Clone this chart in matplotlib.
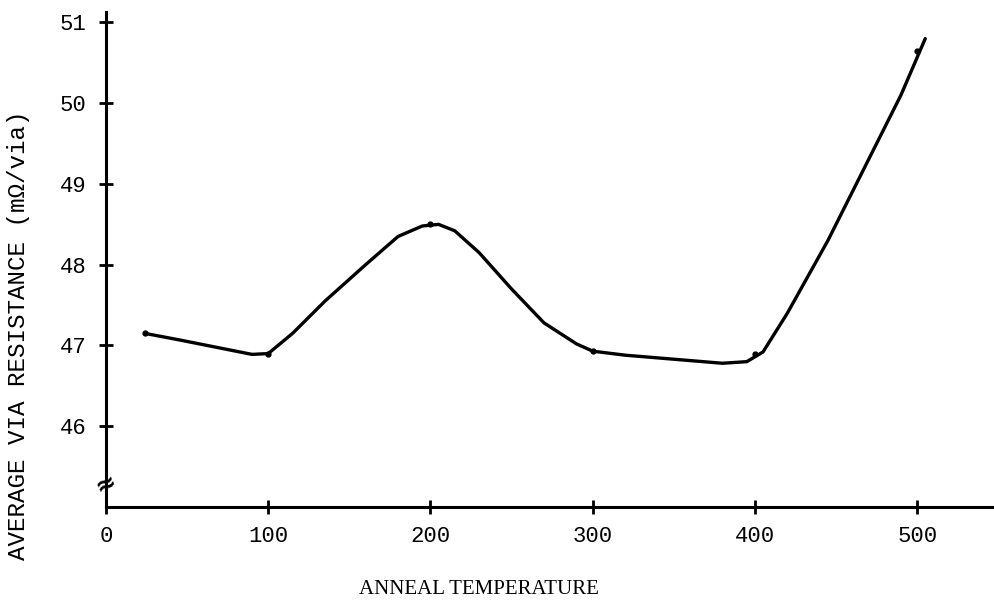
import matplotlib
matplotlib.use("Agg")
import matplotlib.pyplot as plt

# measured points (anneal temperature, resistance)
temp_pts = [24, 100, 200, 300, 400, 500]
res_pts = [47.15, 46.9, 48.5, 46.93, 46.9, 50.65]

# hand-drawn curve
curve_t = [24, 45, 70, 90, 100, 115, 135, 160, 180, 195, 205, 215, 230,
           250, 270, 290, 300, 320, 350, 380, 395, 405, 420, 445, 470, 490, 505]
curve_r = [47.15, 47.07, 46.97, 46.89, 46.9, 47.15, 47.55, 48.0, 48.35, 48.48,
           48.5, 48.42, 48.15, 47.7, 47.28, 47.02, 46.93, 46.88, 46.83, 46.78,
           46.8, 46.92, 47.4, 48.3, 49.3, 50.1, 50.8]

xticks = [0, 100, 200, 300, 400, 500]
yticks = [46, 47, 48, 49, 50, 51]

plt.rcParams['font.family'] = ['Liberation Mono', 'DejaVu Sans Mono']

fig = plt.figure(figsize=(9.95, 6.0), dpi=100)
ax = fig.add_axes([106/995, 93/600, 889/995, 495/600])

ax.plot(curve_t, curve_r, color='black', lw=2.4, solid_capstyle='round',
        solid_joinstyle='round')
ax.plot(temp_pts, res_pts, 'o', color='black', ms=3.5)

ax.set_xlim(0, 548)
ax.set_ylim(45, 51.13)
ax.set_xticks(xticks)
ax.set_yticks(yticks)
ax.tick_params(axis='both', direction='inout', length=10, width=2, labelsize=16, pad=9)

for s in ['top', 'right']:
    ax.spines[s].set_visible(False)
for s in ['left', 'bottom']:
    ax.spines[s].set_linewidth(2.2)

# axis break mark
ax.text(0, 45.28, '\u2248', fontsize=18, rotation=25, ha='center', va='center',
        family='DejaVu Sans', fontweight='bold', clip_on=False)

ax.set_xlabel('ANNEAL TEMPERATURE', fontsize=15,
              family=['Liberation Serif', 'DejaVu Serif'])
ax.xaxis.set_label_coords(0.42, -0.147)
ax.set_ylabel('AVERAGE VIA RESISTANCE (m\u03a9/via)', fontsize=17.5)
ax.yaxis.set_label_coords(-0.086, 0.347)

fig.savefig('out.png', dpi=100)
